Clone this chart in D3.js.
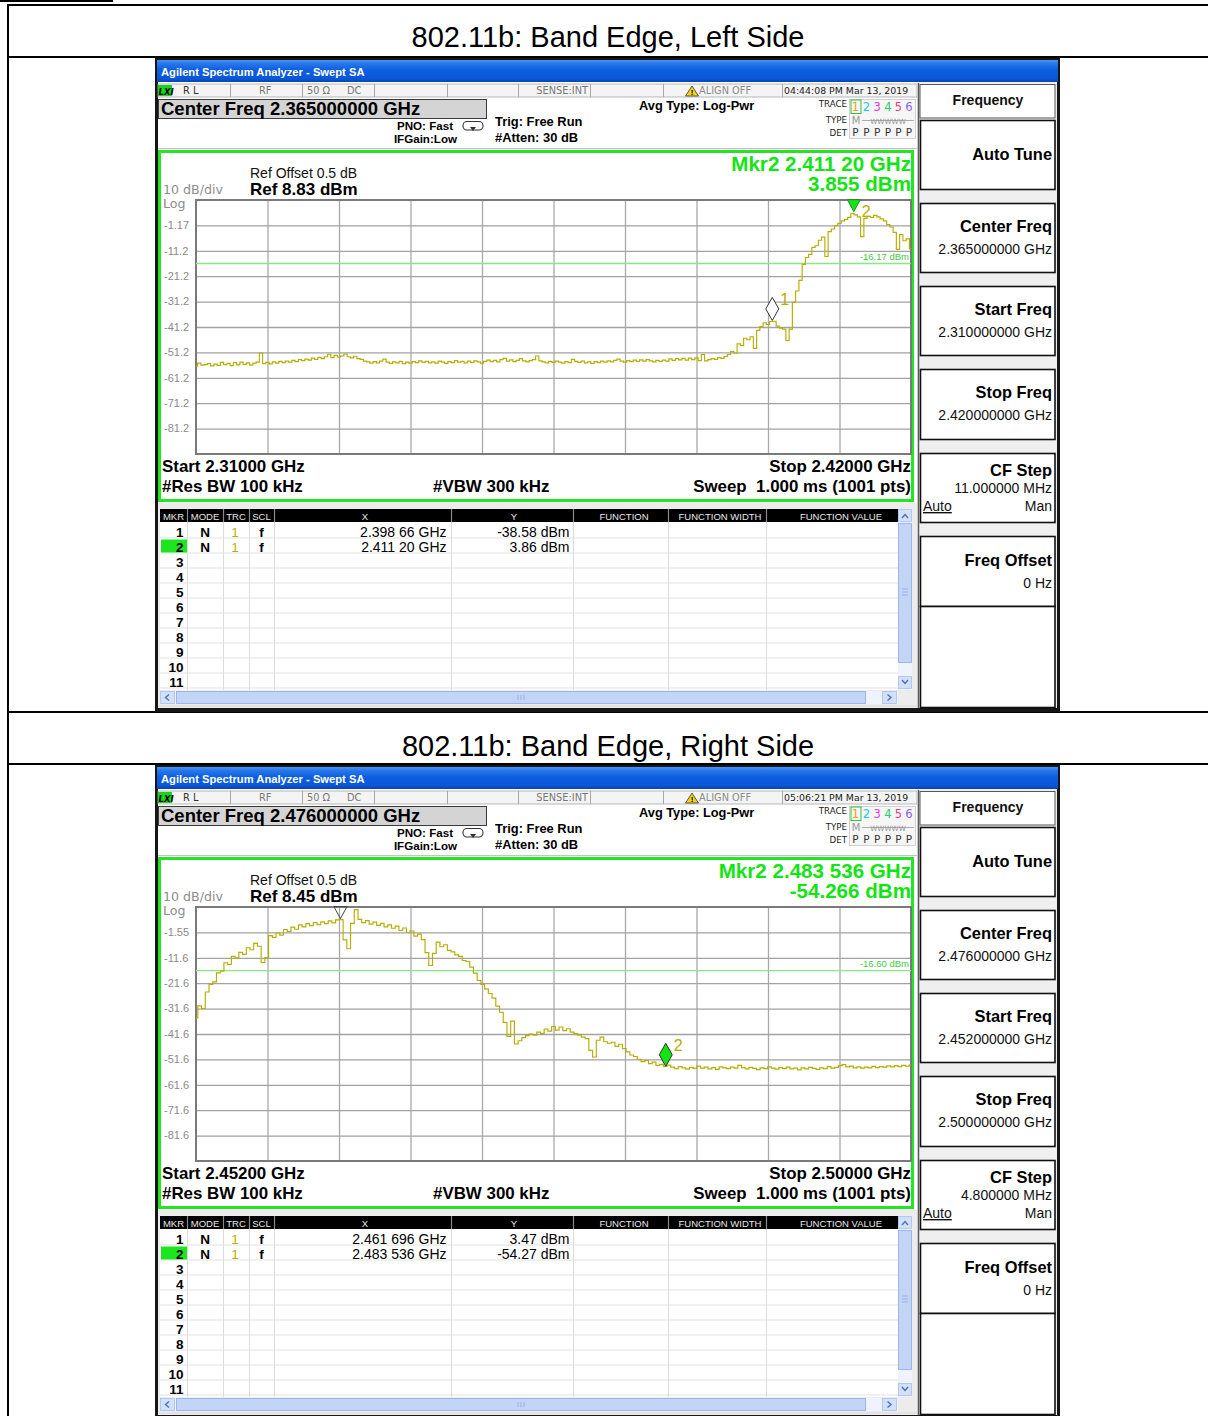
<!DOCTYPE html>
<html>
<head>
<meta charset="utf-8">
<title>802.11b Band Edge</title>
<script src="https://cdn.jsdelivr.net/npm/d3@7/dist/d3.min.js"></script>
<style>
  html, body { margin: 0; padding: 0; background: #fff; }
  svg { display: block; }
  text { white-space: pre; }
</style>
</head>
<body>
<svg id="page" width="1208" height="1416"></svg>
<script>
// ---------------------------------------------------------------
// Measurement data
// ---------------------------------------------------------------
const pageTitles = ["802.11b: Band Edge, Left Side", "802.11b: Band Edge, Right Side"];
const timestamps = ["04:44:08 PM Mar 13, 2019", "05:06:21 PM Mar 13, 2019"];
const sweepStartGHz = [2.310, 2.452];
const sweepStopGHz = [2.420, 2.500];
const refLevelsDbm = [8.83, 8.45];
const displayLinesDbm = [-16.17, -16.60];
const freqDigits = [5, 6];

const yTickLabelsLeft = ["-1.17", "-11.2", "-21.2", "-31.2", "-41.2", "-51.2", "-61.2", "-71.2", "-81.2"];
const yTickLabelsRight = ["-1.55", "-11.6", "-21.6", "-31.6", "-41.6", "-51.6", "-61.6", "-71.6", "-81.6"];

const leftMarkerFreqGHz = [2.39866, 2.41120];
const leftMarkerDbm = [-38.58, 3.855];
const rightMarkerFreqGHz = [2.461696, 2.483536];
const rightMarkerDbm = [3.47, -54.266];

// Trace 1, 2.310 - 2.420 GHz, one reading every 0.5 MHz (dBm)
const leftLevelsDbm = [
  -56.6, -55.4, -56.2, -56.0, -55.6, -56.5, -55.8, -56.3, -55.1, -56.0,
  -55.5, -56.4, -55.2, -56.1, -55.0, -55.9, -55.3, -56.2, -55.4, -55.0,
  -51.4, -55.6, -55.1, -55.7, -54.9, -55.4, -54.7, -55.2, -54.6, -55.0,
  -54.3, -54.8, -54.0, -54.4, -53.8, -54.2, -53.4, -53.9, -53.1, -53.6,
  -52.9, -51.9, -53.2, -52.3, -53.0, -52.6, -51.8, -52.9, -53.3, -52.7,
  -53.6, -53.9, -54.6, -54.9, -55.4, -54.8, -55.3, -54.6, -53.8, -55.0,
  -55.5, -54.9, -55.3, -54.7, -55.6, -55.0, -55.4, -54.8, -55.2, -54.5,
  -55.1, -54.7, -55.3, -54.9, -55.4, -54.6, -55.0, -55.5, -54.8, -55.2,
  -54.4, -55.0, -54.7, -55.3, -54.6, -55.1, -54.5, -54.9, -55.4, -54.7,
  -54.2, -54.8, -54.3, -54.9, -54.0, -53.5, -54.6, -54.1, -54.8, -54.3,
  -53.6, -54.5, -54.9, -54.4, -54.0, -52.6, -54.5, -54.9, -55.3, -54.7,
  -55.1, -54.6, -55.0, -55.4, -54.8, -55.2, -53.9, -54.7, -55.1, -54.6,
  -55.3, -54.9, -55.5, -54.8, -55.2, -54.6, -55.0, -54.5, -54.9, -54.3,
  -53.8, -54.6, -55.0, -54.4, -54.8, -54.2, -54.7, -54.1, -54.6, -54.0,
  -54.5, -54.9, -54.3, -54.7, -54.2, -54.6, -53.7, -54.3, -53.6, -54.1,
  -53.5, -54.2, -53.4, -54.0, -53.3, -54.4, -52.0, -54.5, -54.0, -53.6,
  -53.9, -53.2, -53.5, -52.8, -52.0, -50.8, -51.5, -47.8, -48.5, -45.6,
  -46.2, -45.0, -49.6, -42.5, -41.0, -39.5, -40.2, -39.0, -38.9, -40.8,
  -41.6, -42.0, -46.5, -42.0, -31.5, -27.0, -22.8, -16.5, -13.8, -12.6,
  -9.8, -9.2, -7.0, -5.8, -13.4, -3.6, -2.6, -1.2, -0.4, 0.6,
  1.2, 2.0, 3.6, 3.0, 2.2, -5.6, 1.6, 2.4, 2.0, 2.8,
  2.2, 1.4, 0.6, -0.8, -1.8, -3.9, -10.6, -4.8, -7.2, -6.5,
  -10.4
];

// Trace 1, 2.452 - 2.500 GHz, one reading every 0.25 MHz (dBm)
const rightLevelsDbm = [
  -35.2, -30.5, -31.5, -25.0, -22.0, -21.0, -17.5, -16.8, -13.5, -14.2,
  -11.0, -11.6, -9.4, -10.2, -7.6, -8.4, -5.9, -7.0, -13.4, -11.5,
  -2.8, -3.5, -1.8, -2.6, -0.4, -1.2, 0.5, -0.3, 1.4, 0.6,
  1.9, 1.1, 2.3, 1.5, 2.6, 1.9, 3.0, 2.2, 3.4, 3.5,
  -4.5, -8.0, 2.0, 7.4, 3.6, 2.3, 3.1, 1.7, 2.5, 1.2,
  2.0, 0.6, 1.4, 0.1, 0.9, -0.8, 0.2, -1.6, -1.0, -3.0,
  -2.2, -4.4, -9.5, -14.6, -9.8, -5.4, -7.2, -6.4, -8.6, -9.2,
  -10.4, -11.0, -12.6, -13.0, -15.2, -17.6, -20.5, -22.0, -23.8, -25.6,
  -27.4, -30.6, -33.0, -37.0, -42.5, -36.5, -45.5, -44.2, -43.0, -42.2,
  -41.6, -42.0, -40.8, -41.3, -39.6, -40.4, -38.6, -40.0, -38.8, -40.2,
  -39.5, -40.8, -41.4, -42.0, -42.8, -43.4, -48.0, -50.6, -44.0, -42.8,
  -44.6, -45.2, -44.8, -46.4, -45.6, -47.3, -48.6, -49.8, -50.4, -51.5,
  -52.4, -52.0, -53.2, -52.6, -53.9, -53.5, -54.3, -53.8, -54.6, -55.2,
  -54.4, -54.9, -55.4, -54.7, -55.1, -54.2, -55.0, -54.6, -55.3, -54.8,
  -55.5, -54.5, -54.9, -55.2, -54.6, -55.0, -53.9, -54.8, -55.3, -54.7,
  -55.1, -55.6, -54.9, -55.2, -54.5, -55.0, -55.4, -54.8, -55.2, -54.6,
  -55.3, -55.0, -55.7, -54.9, -55.3, -54.7, -55.1, -55.5, -54.9, -55.2,
  -54.4, -55.0, -54.7, -54.0, -53.6, -54.5, -54.2, -54.9, -54.5, -55.0,
  -54.6, -54.9, -54.3, -54.8, -54.4, -54.6, -54.1, -54.5, -54.0, -54.4,
  -53.9, -54.2, -53.8
];

// ---------------------------------------------------------------
// Drawing
// ---------------------------------------------------------------
const SANS = "'Liberation Sans', Arial, sans-serif";
const UI = "'DejaVu Sans', Verdana, sans-serif";
const TRACE_COLOR = "#b5ae00";
const MKR_GREEN = "#14e414";
const svg = d3.select("#page").attr("font-family", SANS);

function txt(g, x, y, s, o = {}) {
  const t = g.append("text")
    .attr("x", x).attr("y", y).text(s)
    .attr("font-size", o.size || 12)
    .attr("font-weight", o.bold ? "bold" : "normal")
    .attr("fill", o.fill || "#000")
    .attr("text-anchor", o.anchor || "start");
  if (o.family) t.attr("font-family", o.family);
  if (o.italic) t.attr("font-style", "italic");
  if (o.underline) t.attr("text-decoration", "underline");
  return t;
}
function box(g, x, y, w, h, fill, stroke, sw) {
  return g.append("rect").attr("x", x).attr("y", y).attr("width", w).attr("height", h)
    .attr("fill", fill || "none").attr("stroke", stroke || "none").attr("stroke-width", sw || 1);
}
function hline(g, x1, x2, y, stroke, sw) {
  g.append("line").attr("x1", x1).attr("x2", x2).attr("y1", y).attr("y2", y)
    .attr("stroke", stroke).attr("stroke-width", sw || 1);
}
function vline(g, x, y1, y2, stroke, sw) {
  g.append("line").attr("x1", x).attr("x2", x).attr("y1", y1).attr("y2", y2)
    .attr("stroke", stroke).attr("stroke-width", sw || 1);
}

const fmtFreq = (f, d) => { const s = f.toFixed(d); return s.slice(0, 5) + " " + s.slice(5); };
const fmtLevel2 = v => (Math.round(v * 100 + (v >= 0 ? 1e-9 : -1e-9)) / 100).toFixed(2);

const defs = svg.append("defs");
const grad = defs.append("linearGradient").attr("id", "titlebar")
  .attr("x1", 0).attr("y1", 0).attr("x2", 0).attr("y2", 1);
[[0, "#4a95f7"], [0.15, "#2a78ec"], [0.45, "#0d5fe0"], [0.85, "#0a56d6"], [1, "#0844b0"]]
  .forEach(([o, c]) => grad.append("stop").attr("offset", o).attr("stop-color", c));
defs.append("clipPath").attr("id", "gridClip")
  .append("rect").attr("x", 196).attr("y", 200).attr("width", 715).attr("height", 254);

// Document table rules
box(svg, 0, 0, 113, 2, "#000");
[4, 56, 711, 763].forEach(y => box(svg, 7, y, 1201, 2, "#000"));
box(svg, 7, 4, 2, 1412, "#000");
txt(svg, 608, 47, pageTitles[0], { size: 29, anchor: "middle" });
txt(svg, 608, 756, pageTitles[1], { size: 29, anchor: "middle" });

function drawWindow(p) {
  const g = svg.append("g").attr("transform", `translate(0,${p.dy})`);

  // frame and title bar
  box(g, 155, 58, 905, 654, "#161616");
  box(g, 157, 60, 901, 22, "url(#titlebar)");
  txt(g, 161, 76, "Agilent Spectrum Analyzer - Swept SA", { size: 11.2, bold: true, fill: "#fff" });
  box(g, 158, 82, 898, 626, "#fff");

  // status bar
  box(g, 158, 84, 759, 13, "#f4f4f4", "#a8a8a8", 0.8);
  [230, 302, 374, 447, 518, 590, 663, 782].forEach(x => vline(g, x + 0.5, 84, 97, "#a8a8a8"));
  box(g, 158, 85, 14, 11, "#19d419");
  txt(g, 158.5, 94.5, "LXI", { size: 8.5, bold: true, italic: true, family: UI });
  txt(g, 183, 94, "R L", { size: 9.8, family: UI, fill: "#333" });
  txt(g, 259, 94, "RF", { size: 9.8, family: UI, fill: "#777" });
  txt(g, 307, 94, "50 Ω", { size: 9.8, family: UI, fill: "#777" });
  txt(g, 347, 94, "DC", { size: 9.8, family: UI, fill: "#777" });
  txt(g, 588, 94, "SENSE:INT", { size: 9.8, family: UI, fill: "#777", anchor: "end" });
  g.append("path").attr("d", "M692,86 L698.5,96 L685.5,96 Z")
    .attr("fill", "#f2d21b").attr("stroke", "#333").attr("stroke-width", 0.8);
  txt(g, 692, 95.3, "!", { size: 8, bold: true, anchor: "middle" });
  txt(g, 699, 94, "ALIGN OFF", { size: 9.8, family: UI, fill: "#8a8a8a" });
  txt(g, 784, 94, p.timestamp, { size: 9.4, family: UI, fill: "#222" });

  // settings header
  const center = (p.start + p.stop) / 2;
  box(g, 158.5, 99.5, 328, 19, "#d4d4d4", "#3a3a3a", 1);
  txt(g, 161, 115, "Center Freq " + center.toFixed(9) + " GHz", { size: 18.5, bold: true });
  txt(g, 453, 129.5, "PNO: Fast", { size: 11.6, bold: true, anchor: "end" });
  txt(g, 457, 143, "IFGain:Low", { size: 11.6, bold: true, anchor: "end" });
  g.append("rect").attr("x", 463).attr("y", 121.5).attr("width", 20).attr("height", 8.5).attr("rx", 4)
    .attr("fill", "none").attr("stroke", "#333").attr("stroke-width", 1.1);
  g.append("path").attr("d", "M470,127 L476,127 L473,131 Z").attr("fill", "#333");
  txt(g, 495, 125.5, "Trig: Free Run", { size: 12.9, bold: true });
  txt(g, 495, 141.5, "#Atten: 30 dB", { size: 12.9, bold: true });
  txt(g, 639, 110, "Avg Type: Log-Pwr", { size: 12.8, bold: true });

  // trace status block
  box(g, 849.5, 99.5, 66, 39, "#f6f6f6", "#c8c8c8", 0.8);
  txt(g, 847, 107, "TRACE", { size: 8.7, family: UI, fill: "#222", anchor: "end" });
  txt(g, 847, 123, "TYPE", { size: 8.7, family: UI, fill: "#222", anchor: "end" });
  txt(g, 847, 135.5, "DET", { size: 8.7, family: UI, fill: "#222", anchor: "end" });
  const traceCols = [855.5, 866.5, 877.2, 888, 898.3, 909];
  const traceColors = ["#f0a010", "#18c8e8", "#e040e0", "#20d068", "#f03c7c", "#8a62f0"];
  box(g, 851, 100, 10, 13.5, "none", "#38c038", 1);
  traceCols.forEach((x, i) => {
    txt(g, x, 111, String(i + 1), { size: 11.5, family: UI, fill: traceColors[i], anchor: "middle" });
    txt(g, x, 135.5, "P", { size: 10.5, family: UI, fill: "#333", anchor: "middle" });
  });
  txt(g, 856, 123.5, "M", { size: 10, family: UI, fill: "#999", anchor: "middle" });
  txt(g, 888, 123.5, "WWWWW", { size: 7.2, family: UI, fill: "#999", anchor: "middle" });
  hline(g, 862, 914, 120.5, "#999", 0.8);
  hline(g, 158, 917, 148.5, "#c4c4c4", 1);

  // graticule frame
  box(g, 159.5, 151.5, 753, 349, "#fff", "#22e622", 3);
  const x = d3.scaleLinear().domain([p.start, p.stop]).range([196, 911]);
  const y = d3.scaleLinear().domain([p.ref, p.ref - 100]).range([200, 454]);

  const xDivs = d3.range(1, 10).map(k => p.start + k * (p.stop - p.start) / 10);
  const yDivs = d3.range(1, 10).map(k => p.ref - 10 * k);

  g.append("g").attr("transform", "translate(0,454)")
    .call(d3.axisBottom(x).tickValues(xDivs).tickSize(-254).tickFormat(""))
    .call(a => { a.select(".domain").remove(); a.selectAll("line").attr("stroke", "#a9a9a9").attr("stroke-width", 1.3); });
  g.append("g").attr("transform", "translate(196,0)")
    .call(d3.axisLeft(y).tickValues(yDivs).tickSize(-715).tickFormat(""))
    .call(a => { a.select(".domain").remove(); a.selectAll("line").attr("stroke", "#a2a2a2").attr("stroke-width", 1.3); });
  box(g, 196, 200, 715, 254, "none", "#7a7a7a", 2);

  // amplitude labels
  g.append("g").attr("transform", "translate(164,0)")
    .call(d3.axisRight(y).tickValues(yDivs).tickSize(0).tickPadding(0)
      .tickFormat((d, i) => p.yLabels[i]))
    .call(a => {
      a.select(".domain").remove();
      a.attr("font-family", SANS).attr("font-size", 11);
      a.selectAll("text").attr("fill", "#8a8a8a").attr("dy", "0.3em");
    });

  txt(g, 163, 194, "10 dB/div", { size: 12.6, family: UI, fill: "#8c8c8c" });
  txt(g, 163, 207.5, "Log", { size: 12.6, family: UI, fill: "#8c8c8c" });
  txt(g, 250, 178, "Ref Offset 0.5 dB", { size: 14, fill: "#111" });
  txt(g, 250, 194.5, "Ref " + p.ref.toFixed(2) + " dBm", { size: 17, bold: true });

  // display line
  const dl = y(p.displayLine);
  hline(g, 196, 911, dl, "#86e886", 1.3);
  txt(g, 909, dl - 4, p.displayLine.toFixed(2) + " dBm", { size: 9.5, fill: "#3ccc3c", anchor: "end" });

  // trace
  const freqs = p.levels.map((_, i) => p.start + i * (p.stop - p.start) / (p.levels.length - 1));
  const line = d3.line().x((d, i) => x(freqs[i])).y(d => y(d)).curve(d3.curveStep);
  g.append("path").datum(p.levels).attr("d", line)
    .attr("fill", "none").attr("stroke", TRACE_COLOR).attr("stroke-width", 1.15)
    .attr("clip-path", "url(#gridClip)");

  // markers
  p.markerFreq.forEach((f, i) => {
    const mx = x(f), my = y(p.markerLvl[i]);
    const shape = p.markerShape[i];
    const active = i === p.activeMarker;
    if (shape === "diamond") {
      g.append("path").attr("d", `M${mx},${my} L${mx + 6.5},${my - 11.5} L${mx},${my - 23} L${mx - 6.5},${my - 11.5} Z`)
        .attr("fill", active ? MKR_GREEN : "#fff").attr("stroke", "#333").attr("stroke-width", 1);
      txt(g, mx + 8, my - 15, String(i + 1), { size: 16, fill: TRACE_COLOR });
    } else if (shape === "triangle") {
      g.append("path").attr("d", `M${mx},${my - 1} L${mx + 6.5},${my - 13} L${mx - 6.5},${my - 13} Z`)
        .attr("fill", active ? MKR_GREEN : "none").attr("stroke", active ? "#2a8a2a" : "#444").attr("stroke-width", 1);
      if (p.markerLabelled[i]) txt(g, mx + 8, my + 4, String(i + 1), { size: 16, fill: TRACE_COLOR });
    }
  });

  // active marker readout
  const am = p.activeMarker;
  txt(g, 911, 171, "Mkr" + (am + 1) + " " + fmtFreq(p.markerFreq[am], p.freqDigits) + " GHz",
    { size: 20.6, bold: true, fill: MKR_GREEN, anchor: "end" });
  txt(g, 911, 191, p.markerLvl[am].toFixed(3) + " dBm", { size: 20.6, bold: true, fill: MKR_GREEN, anchor: "end" });

  // sweep settings
  txt(g, 162, 472, "Start " + p.start.toFixed(5) + " GHz", { size: 16.9, bold: true });
  txt(g, 911, 472, "Stop " + p.stop.toFixed(5) + " GHz", { size: 16.9, bold: true, anchor: "end" });
  txt(g, 162, 492, "#Res BW 100 kHz", { size: 16.9, bold: true });
  txt(g, 433, 492, "#VBW 300 kHz", { size: 16.9, bold: true });
  txt(g, 911, 492, "Sweep  1.000 ms (1001 pts)", { size: 16.9, bold: true, anchor: "end" });

  // marker table
  box(g, 158, 503, 760, 205, "#ececec");
  box(g, 160, 509, 738, 13, "#000");
  const colEdges = [160, 187, 223, 249, 274, 451, 573, 668, 766, 898];
  const headers = ["MKR", "MODE", "TRC", "SCL", "X", "Y", "FUNCTION", "FUNCTION WIDTH", "FUNCTION VALUE"];
  const headerX = [173.5, 205, 236, 261.5, 365, 514, 624, 720, 841];
  headers.forEach((h, i) => txt(g, headerX[i], 519.5, h, { size: 9.5, fill: "#e8e8e8", anchor: "middle" }));
  colEdges.slice(1, -1).forEach(cx => vline(g, cx + 0.5, 509, 522, "#8a8a8a", 1.2));
  box(g, 160, 522, 738, 168, "#fff");
  d3.range(11).forEach(r => hline(g, 160, 898, 538 + 15 * r, "#e2e2e2", 1.2));
  colEdges.slice(1, -1).forEach(cx => vline(g, cx + 0.5, 522, 690, "#dcdcdc", 1));
  box(g, 161, 539.5, 26, 13, "#1ee61e");
  d3.range(11).forEach(r => {
    txt(g, 183.5, 536.5 + 15 * r, String(r + 1), { size: 13.5, bold: true, anchor: "end" });
  });
  p.markerFreq.forEach((f, i) => {
    const by = 536.5 + 15 * i;
    txt(g, 205, by, "N", { size: 13.5, bold: true, anchor: "middle" });
    txt(g, 235, by, "1", { size: 13.5, fill: "#b8b000", anchor: "middle" });
    txt(g, 261.5, by, "f", { size: 13.5, bold: true, anchor: "middle" });
    txt(g, 446.5, by, fmtFreq(f, p.freqDigits) + " GHz", { size: 14, anchor: "end" });
    txt(g, 569.5, by, fmtLevel2(p.markerLvl[i]) + " dBm", { size: 14, anchor: "end" });
  });

  // scroll bars
  box(g, 898, 509, 14, 181, "#eef3fd");
  box(g, 898.5, 509.5, 13, 12, "#d2e0fa", "#a9c0ee", 0.8);
  g.append("path").attr("d", "M902,518 L905,514.5 L908,518").attr("fill", "none").attr("stroke", "#4d6fb8").attr("stroke-width", 1.4);
  box(g, 898.5, 523.5, 13, 139, "#c3d5f7", "#8eaae6", 0.8);
  [589, 592, 595].forEach(yy => hline(g, 902, 908, yy, "#8eaae6", 0.8));
  box(g, 898.5, 676.5, 13, 12, "#d2e0fa", "#a9c0ee", 0.8);
  g.append("path").attr("d", "M902,680 L905,683.5 L908,680").attr("fill", "none").attr("stroke", "#4d6fb8").attr("stroke-width", 1.4);
  box(g, 160, 691, 738, 13, "#eef3fd");
  box(g, 160.5, 691.5, 14, 12, "#d2e0fa", "#a9c0ee", 0.8);
  g.append("path").attr("d", "M169,694.5 L165.5,697.5 L169,700.5").attr("fill", "none").attr("stroke", "#4d6fb8").attr("stroke-width", 1.4);
  box(g, 176.5, 691.5, 689, 12, "#c3d5f7", "#8eaae6", 0.8);
  [518, 521, 524].forEach(xx => vline(g, xx, 695, 700, "#8eaae6", 0.8));
  box(g, 882.5, 691.5, 14, 12, "#d2e0fa", "#a9c0ee", 0.8);
  g.append("path").attr("d", "M887.5,694.5 L891,697.5 L887.5,700.5").attr("fill", "none").attr("stroke", "#4d6fb8").attr("stroke-width", 1.4);
  hline(g, 158, 917, 706, "#d8d8d8", 1);

  // softkey panel
  box(g, 917, 82, 140, 626, "#efefef");
  vline(g, 918.5, 83, 708, "#5a5a5a", 1.5);
  box(g, 920, 84.5, 135, 33.5, "#fff", "#555", 1);
  txt(g, 988, 105, "Frequency", { size: 14, bold: true, anchor: "middle", fill: "#111" });
  const keys = [
    { y0: 120, y1: 189, title: "Auto Tune", ty: 160 },
    { y0: 203, y1: 272, title: "Center Freq", ty: 232, value: center.toFixed(9) + " GHz" },
    { y0: 286, y1: 355, title: "Start Freq", ty: 315, value: p.start.toFixed(9) + " GHz" },
    { y0: 369, y1: 439, title: "Stop Freq", ty: 398, value: p.stop.toFixed(9) + " GHz" },
    { y0: 453, y1: 522, title: "CF Step", ty: 476, value: ((p.stop - p.start) * 100).toFixed(6) + " MHz", vy: 493, autoMan: true },
    { y0: 536, y1: 606, title: "Freq Offset", ty: 566, value: "0 Hz" }
  ];
  keys.forEach(k => {
    box(g, 920.5, k.y0 + 0.5, 134.5, k.y1 - k.y0, "#fff", "#111", 1.6);
    txt(g, 1052, k.ty, k.title, { size: 16.4, bold: true, anchor: "end" });
    if (k.value) txt(g, 1052, k.vy || k.ty + 22, k.value, { size: 14, anchor: "end", fill: "#111" });
    if (k.autoMan) {
      txt(g, 923, 511, "Auto", { size: 14, underline: true, fill: "#111" });
      txt(g, 1052, 511, "Man", { size: 14, anchor: "end", fill: "#111" });
    }
  });
  box(g, 920.5, 606.5, 134.5, 101, "#fff", "#111", 1.6);
}

drawWindow({
  dy: 0, timestamp: timestamps[0], start: sweepStartGHz[0], stop: sweepStopGHz[0],
  ref: refLevelsDbm[0], displayLine: displayLinesDbm[0], yLabels: yTickLabelsLeft,
  levels: leftLevelsDbm, markerFreq: leftMarkerFreqGHz, markerLvl: leftMarkerDbm,
  freqDigits: freqDigits[0], activeMarker: 1,
  markerShape: ["diamond", "triangle"], markerLabelled: [true, true]
});
drawWindow({
  dy: 707, timestamp: timestamps[1], start: sweepStartGHz[1], stop: sweepStopGHz[1],
  ref: refLevelsDbm[1], displayLine: displayLinesDbm[1], yLabels: yTickLabelsRight,
  levels: rightLevelsDbm, markerFreq: rightMarkerFreqGHz, markerLvl: rightMarkerDbm,
  freqDigits: freqDigits[1], activeMarker: 1,
  markerShape: ["triangle", "diamond"], markerLabelled: [false, true]
});
</script>
</body>
</html>
